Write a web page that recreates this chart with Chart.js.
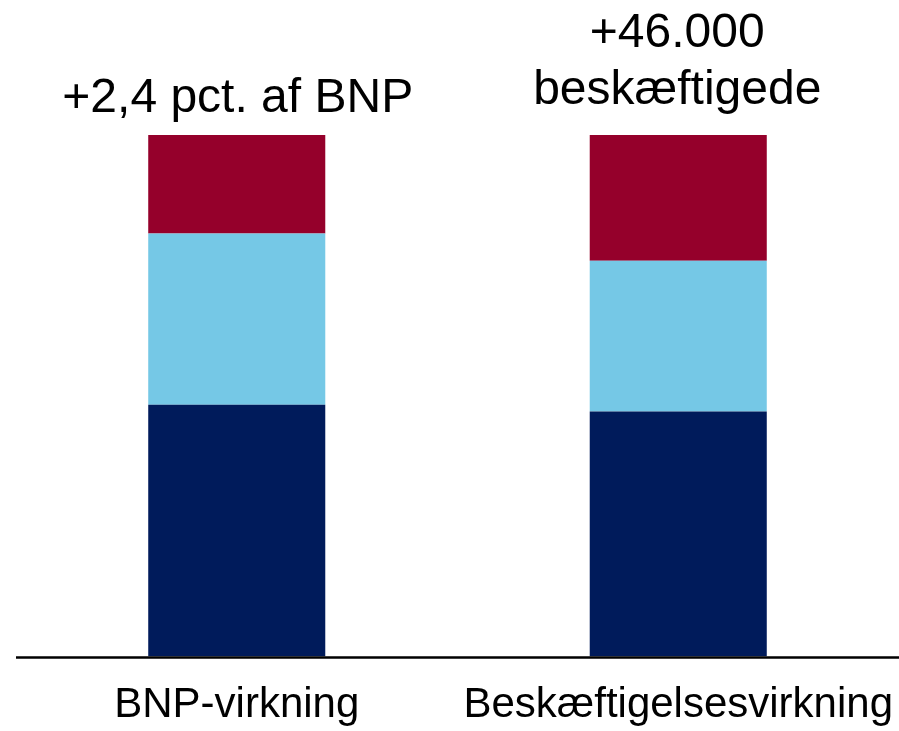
<!DOCTYPE html>
<html>
<head>
<meta charset="utf-8">
<script src="https://cdn.jsdelivr.net/npm/chart.js@4/dist/chart.umd.min.js"></script>
<style>
  html, body { margin: 0; padding: 0; background: #fff; }
  #wrap { width: 899px; height: 731px; position: relative; }
</style>
</head>
<body>
<div id="wrap"><canvas id="effectChart"></canvas></div>
<script>
// Categories and shares (pct. of each bar's total)
const categories = ['BNP-virkning', 'Beskæftigelsesvirkning'];
const bottomPart = [48.3, 47.0];
const middlePart = [32.8, 28.9];
const topPart = [18.9, 24.1];
const barTotals = [['+2,4 pct. af BNP'], ['+46.000', 'beskæftigede']];

const FONT = "'Liberation Sans', Arial, Helvetica, sans-serif";

// Writes the total above each bar
const totalsPlugin = {
    id: 'totals',
    afterDatasetsDraw(chart, args, opts) {
        const ctx = chart.ctx;
        const top = chart.chartArea.top;
        ctx.save();
        ctx.fillStyle = '#000';
        ctx.font = '48px ' + FONT;
        ctx.textAlign = 'center';
        ctx.textBaseline = 'alphabetic';
        barTotals.forEach((lines, i) => {
            const x = chart.scales.x.getPixelForValue(i) + opts.shift[i];
            const lastBase = top - opts.gap[i];
            lines.forEach((txt, j) => {
                const y = lastBase - (lines.length - 1 - j) * opts.lineStep;
                ctx.fillText(txt, x, y);
            });
        });
        ctx.restore();
    }
};

// Baseline reaching a bit left of the plot area
const baselinePlugin = {
    id: 'baseline',
    afterDatasetsDraw(chart) {
        const ctx = chart.ctx;
        const y = chart.scales.y.getPixelForValue(0);
        ctx.save();
        ctx.strokeStyle = '#000';
        ctx.lineWidth = 2.5;
        ctx.beginPath();
        ctx.moveTo(16, y + 0.8);
        ctx.lineTo(chart.width, y + 0.8);
        ctx.stroke();
        ctx.restore();
    }
};

const ctx = document.getElementById('effectChart');
new Chart(ctx, {
    type: 'bar',
    data: {
        labels: categories,
        datasets: [
            { label: 'Del 1', data: bottomPart, backgroundColor: '#001B5B' },
            { label: 'Del 2', data: middlePart, backgroundColor: '#75C8E6' },
            { label: 'Del 3', data: topPart, backgroundColor: '#95002B' }
        ]
    },
    options: {
        responsive: true,
        maintainAspectRatio: false,
        animation: false,
        devicePixelRatio: 1,
        layout: { padding: { top: 135, left: 16, right: 0, bottom: 0 } },
        datasets: {
            bar: { categoryPercentage: 1, barPercentage: 0.401, borderWidth: 0 }
        },
        scales: {
            x: {
                stacked: true,
                grid: {
                    display: true,
                    drawOnChartArea: false,
                    drawTicks: true,
                    tickLength: 24,
                    color: 'rgba(0,0,0,0)'
                },
                border: { display: false },
                ticks: {
                    color: '#000',
                    padding: 0,
                    maxRotation: 0,
                    minRotation: 0,
                    autoSkip: false,
                    font: { family: FONT, size: 42 }
                }
            },
            y: {
                stacked: true,
                display: false,
                min: 0,
                max: 100
            }
        },
        plugins: {
            legend: { display: false },
            tooltip: { enabled: false },
            totals: { gap: [23.5, 31.5], lineStep: 56.6, shift: [1, -1] }
        }
    },
    plugins: [totalsPlugin, baselinePlugin]
});
</script>
</body>
</html>
